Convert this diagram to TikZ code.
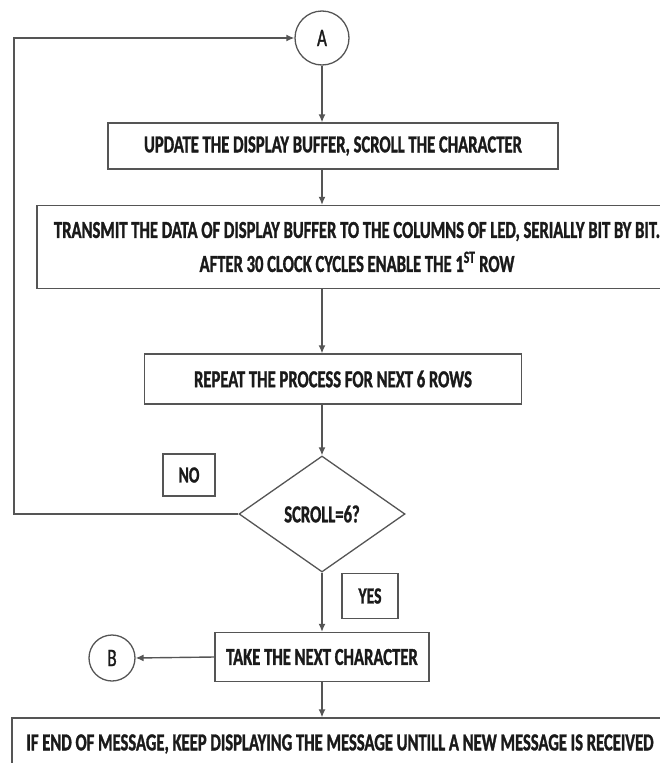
\documentclass[tikz,border=0pt]{standalone}
\usepackage{fontspec}
\usepackage{tikz}
\usetikzlibrary{shapes.geometric,arrows.meta}
\newfontfamily\flowfont{Carlito}[FakeStretch=0.68,FakeBold=1.2]
\definecolor{linegray}{HTML}{555555}
\definecolor{inkgray}{HTML}{1A1A1A}

\begin{document}
\begin{tikzpicture}[x=1pt,y=-1pt,
    flow/.style={draw=linegray, line width=1.4pt, -{Latex[length=8pt,width=7pt]}},
    stepbox/.style={draw=linegray, line width=1.3pt, rectangle, inner sep=0pt,
        text=inkgray, font=\flowfont\bfseries\fontsize{24.4}{26}\selectfont},
    answer/.style={stepbox, font=\flowfont\bfseries\fontsize{23}{26}\selectfont},
    connector/.style={draw=linegray, line width=1.3pt, circle, inner sep=0pt,
        text=inkgray, font=\flowfont\fontsize{25}{28}\selectfont}]
                    \useasboundingbox (0,0) rectangle (660,763);
                    \clip (0,0) rectangle (660,763);

                    \node [connector, minimum size=54pt] (A) at (322,38) {A};
                    \node [stepbox, minimum width=450pt, minimum height=46pt] (update) at (333,146)
                        {UPDATE THE DISPLAY BUFFER, SCROLL THE CHARACTER};
                    \node [stepbox, minimum width=640pt, minimum height=83pt, align=center] (transmit) at (357,247)
                        {TRANSMIT THE DATA OF DISPLAY BUFFER TO THE COLUMNS OF LED, SERIALLY BIT BY BIT.\\[8pt]
                         AFTER 30 CLOCK CYCLES ENABLE THE 1\textsuperscript{ST} ROW};
                    \node [stepbox, minimum width=377pt, minimum height=50pt] (repeat) at (333,379)
                        {REPEAT THE PROCESS FOR NEXT 6 ROWS};
                    \node [stepbox, diamond, minimum width=166pt, minimum height=116pt] (scroll) at (322,514)
                        {SCROLL=6?};
                    \node [answer, minimum width=52pt, minimum height=42pt] (no) at (189,475) {NO};
                    \node [answer, minimum width=56pt, minimum height=45pt] (yes) at (370,596) {YES};
                    \node [stepbox, minimum width=214pt, minimum height=49pt] (take) at (322,657)
                        {TAKE THE NEXT CHARACTER};
                    \node [connector, minimum size=46pt] (B) at (112,658) {B};
                    \node [stepbox, minimum width=656pt, minimum height=52pt] (endmsg) at (340,744)
                        {IF END OF MESSAGE, KEEP DISPLAYING THE MESSAGE UNTILL A NEW MESSAGE IS RECEIVED};

                    \coordinate (loopbot) at (14,514);
                    \coordinate (looptop) at (14,38);

                    \draw[flow] (A) -- (A |- update.north);
                    \draw[flow] (A |- update.south) -- (A |- transmit.north);
                    \draw[flow] (A |- transmit.south) -- (A |- repeat.north);
                    \draw[flow] (A |- repeat.south) -- (scroll.north);
                    \draw[flow] (scroll.south) -- (take.north);
                    \draw[flow] (take.west) -- (B.east);
                    \draw[flow] (take.south) -- (take |- endmsg.north);
                    \draw[flow] (scroll.west) -- (loopbot) -- (looptop) -- (A.west);
                \end{tikzpicture}
\end{document}
